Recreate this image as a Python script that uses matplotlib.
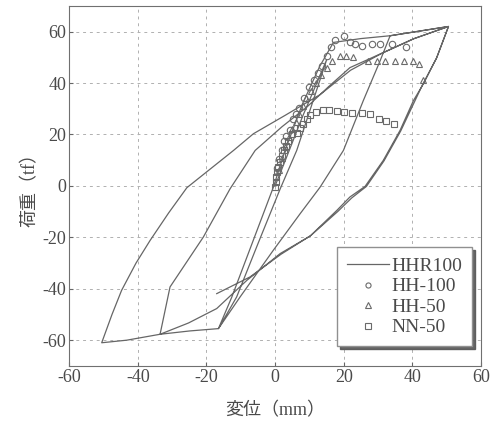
"Load-displacement hysteresis plot"

import matplotlib
matplotlib.use("Agg")
import matplotlib.pyplot as plt

plt.rcParams["font.family"] = ["Liberation Serif", "Noto Sans CJK JP"]
plt.rcParams["axes.unicode_minus"] = False

#####
# Data
#####

# HHR100 analysis, drawn as one continuous path
hhr_x = [0, 3, 8, 15, 6.3, 1.5, -5, -11.2, -16.5,
         -12.6, -0.5, 2.9, 8, 13, 17, 25, 33.5, 42, 50.5, 42, 33.5,
         30.6, 25.7, 19.9, 13.1, 7.3, -0.5, -10.2, -16.5, -24.8, -33.5,
         -30.6, -20.9, -13.1, -5.8, 2, 9.2, 15.5, 21.8, 30.6, 40.3, 50.5,
         47.1, 43.2, 40.3, 36.4, 31.5, 26.2, 21.8, 18, 10.2, 1.5, -8.2, -17,
         -25.2, -33.5, -43.2, -50.5,
         -47.5, -44.7, -40.5, -36.4, -31, -25.7, -12.1, -6.3, 3, 13.1, 22, 31, 40.5, 50.5,
         47, 43, 36.6, 31.7, 26.6, 22.3, 18.3, 10.4, 1.7, -7.3, -17]
hhr_y = [0, 10, 27, 49, 13.8, -1.1, -22.5, -43.2, -55.5,
         -43.2, -0.5, 13.8, 32, 46.5, 55.8, 57.3, 58.4, 60.2, 62, 60.2, 58.4,
         48.7, 33.2, 13.8, -0.5, -10.8, -25, -43.2, -55.5, -56.4, -57.7,
         -39.3, -19.9, -1.1, 13.8, 23, 30.6, 38.5, 46, 51.3, 57.2, 62,
         50, 39.7, 33.2, 21.6, 9.9, -0.2, -4.3, -9.5, -19.5, -26.3, -36.7, -47.7,
         -53.3, -57.7, -60, -61,
         -50, -40.6, -30, -21.2, -10.5, -0.7, 13.8, 20.3, 27.5, 35.5, 45, 51.5, 57.3, 62,
         49.6, 39.5, 21.4, 9.7, -0.2, -4.7, -9.9, -19.3, -26.6, -35.4, -41.9]

# HH-100 test
hh100_x = [0.5, 1.0, 1.9, 2.6, 3.3, 4.2, 5.3, 6.2, 7.1, 8.5, 10, 11.4, 12.5,
           13.6, 15.2, 16.2, 17.5, 20.1, 21.8, 23.3, 25.2, 28.2, 30.6, 34, 38.2]
hh100_y = [7, 10.5, 13.8, 17.4, 19.5, 21.6, 26.1, 28, 30.4, 34.2, 38.4, 41, 44,
           46.8, 50.7, 53.9, 56.8, 58.4, 55.8, 55.2, 54.6, 55.2, 55.2, 55.2, 53.9]

# HH-50 test
hh50_x = [1, 2, 3, 4, 5, 6, 7, 8, 9, 10.5, 12, 13.5, 15, 16.5,
          18.9, 20.7, 22.8, 27.2, 29.6, 32, 35, 37.4, 40.1, 41.8, 43.2]
hh50_y = [6, 11, 15, 19, 22, 25, 28, 31, 34, 37, 40, 43, 46, 48.7,
          50.7, 50.7, 50.3, 48.7, 48.7, 48.7, 48.5, 48.5, 48.5, 47.5, 41]

# NN-50 test
nn50_x = [0, 0.2, 0.4, 0.6, 0.9, 1.3, 1.9, 2.6, 3.2, 3.9, 4.9, 6.3, 7.2, 8.2,
          9.2, 10.3, 11.9, 13.9, 15.8, 18, 20.1, 22.3, 25.2, 27.5, 30.4, 32.2, 34.5]
nn50_y = [-0.5, 1.5, 3.5, 5.5, 7.5, 9.3, 11.8, 13.8, 15.5, 17.5, 20, 20.5, 22.5,
          24.2, 26.1, 27.5, 28.7, 29.7, 29.7, 29.3, 28.9, 28.4, 28.4, 27.8, 26.1,
          25.4, 24.2]

ticks = [-60, -40, -20, 0, 20, 40, 60]

#####
# Plot
#####

gray = "#666666"
text_gray = "#4a4a4a"
fig = plt.figure(figsize=(4.97, 4.23), dpi=100)
ax = fig.add_axes([0.139, 0.135, 0.829, 0.851])

ax.plot(hhr_x, hhr_y, color=gray, lw=0.9, label="HHR100")
mk = dict(ls="none", mfc="none", mec="#6a6a6a", mew=0.8, ms=4.6)
ax.plot(hh100_x, hh100_y, marker="o", label="HH-100", **mk)
ax.plot(hh50_x, hh50_y, marker="^", label="HH-50", **mk)
ax.plot(nn50_x, nn50_y, marker="s", label="NN-50", **mk)

ax.set_xlim(-60, 60)
ax.set_ylim(-70, 70)
ax.set_xticks(ticks)
ax.set_yticks(ticks)
ax.grid(True, color="#b0b0b0", lw=0.7, ls=(0, (3, 4)))
ax.tick_params(direction="in", length=3, color=gray, labelsize=13,
               labelcolor=text_gray, pad=2)
for s in ax.spines.values():
    s.set_color("#707070")

ax.set_xlabel("変位（mm）", fontsize=13, color=text_gray, labelpad=12)
ax.set_ylabel("荷重（tf）", fontsize=13, color=text_gray, labelpad=3)

leg = ax.legend(loc="lower right", bbox_to_anchor=(0.978, 0.055),
                borderaxespad=0, fontsize=14, fancybox=False, framealpha=1,
                edgecolor="#909090", markerscale=0.8, handlelength=2.2,
                handletextpad=0.1, labelspacing=0.15, borderpad=0.5,
                shadow={"color": "#555555", "alpha": 0.9})
for t in leg.get_texts():
    t.set_color(text_gray)

fig.savefig("out.png", dpi=100)
